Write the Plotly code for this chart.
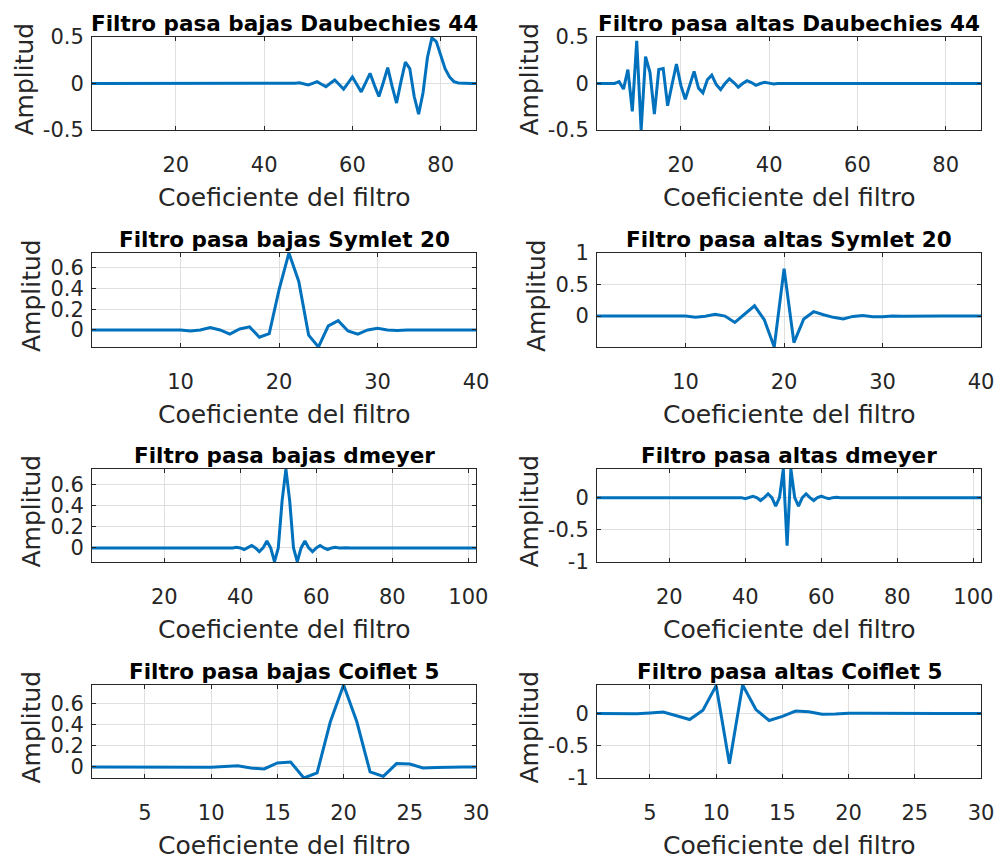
import plotly.graph_objects as go

W, H = 998, 860

# ---- filter coefficients (index 1..N) ----
db44_lo = [
    0, 0, 0, 0, 0, 0, 0, 0, 0, 0,
    0, 0, 0, 0, 0, 0, 0, 0, 0, 0,
    0, 0, 0, 0, 0, 0, 0, 0, 0, 0,
    0, 0, 0, 0, 0, 0, 0, 0, 0, 0,
    0.001, -0.001, 0.001, 0.002, 0.002, 0.004, 0.003, 0.008, -0.004, -0.016,
    0.002, 0.02, -0.008, -0.034, 0.002, 0.038, -0.01, -0.06, 0.004, 0.07,
    -0.01, -0.09, 0.01, 0.11, -0.02, -0.14, 0.01, 0.17, -0.03, -0.21,
    0.02, 0.23, 0.16, -0.14, -0.33, -0.1, 0.28, 0.49, 0.45, 0.31,
    0.16, 0.07, 0.02, 0.005, 0.001, 0, 0, 0,
]
db44_hi = [
    0, 0, 0, 0, 0.001, 0.02, -0.06, 0.15, -0.30, 0.46,
    -0.50, 0.29, 0.12, -0.33, 0.15, 0.16, -0.24, -0.01, 0.21, -0.02,
    -0.17, -0.02, 0.13, -0.05, -0.10, 0.04, 0.09, -0.01, -0.065, 0.0,
    0.05, 0.01, -0.04, 0.0, 0.03, 0.01, -0.02, 0.0, 0.012, 0.004,
    -0.006, 0.0, 0.003, 0.001, -0.001, 0.001, 0, 0, 0, 0,
    0, 0, 0, 0, 0, 0, 0, 0, 0, 0,
    0, 0, 0, 0, 0, 0, 0, 0, 0, 0,
    0, 0, 0, 0, 0, 0, 0, 0, 0, 0,
    0, 0, 0, 0, 0, 0, 0, 0,
]
sym20_lo = [
    0, 0, 0, 0, 0, 0, 0, 0.001, 0.003, 0.0,
    -0.01, 0.0, 0.023, 0.0, -0.04, 0.01, 0.03, -0.07, -0.035, 0.39,
    0.745, 0.47, -0.05, -0.165, 0.04, 0.09, -0.01, -0.04, 0.0, 0.016,
    0.0, -0.006, 0.0, 0.001, 0, 0, 0, 0, 0, 0,
]
sym20_hi = [
    0, 0, 0, 0, 0, 0, 0, 0, 0.006, 0.0,
    -0.02, -0.003, 0.027, 0.0, -0.1, 0.03, 0.163, -0.06, -0.49, 0.75,
    -0.42, -0.045, 0.07, 0.022, -0.02, -0.045, -0.005, 0.011, -0.01, -0.01,
    0.0, -0.003, 0.0, 0, 0, 0, 0, 0, 0, 0,
]
dmey_lo = [
    0, 0, 0, 0, 0, 0, 0, 0, 0, 0,
    0, 0, 0, 0, 0, 0, 0, 0, 0, 0,
    0, 0, 0, 0, 0, 0, 0, 0, 0, 0,
    0, 0, 0, 0, 0, 0.001, -0.003, 0.0, 0.006, 0.0,
    -0.015, 0.0, 0.022, 0.0, -0.035, 0.0, 0.065, 0.0, -0.13, 0.0,
    0.445, 0.745, 0.445, 0.0, -0.13, 0.0, 0.065, 0.0, -0.035, 0.0,
    0.022, 0.0, -0.015, 0.0, 0.006, 0.0, -0.003, 0.001, 0, 0,
    0, 0, 0, 0, 0, 0, 0, 0, 0, 0,
    0, 0, 0, 0, 0, 0, 0, 0, 0, 0,
    0, 0, 0, 0, 0, 0, 0, 0, 0, 0,
    0, 0,
]
dmey_hi = [
    0, 0, 0, 0, 0, 0, 0, 0, 0, 0,
    0, 0, 0, 0, 0, 0, 0, 0, 0, 0,
    0, 0, 0, 0, 0, 0, 0, 0, 0, 0,
    0, 0, 0, 0, -0.001, -0.003, 0.0, 0.006, 0.0, -0.015,
    0.0, 0.022, 0.0, -0.045, 0.0, 0.06, 0.0, -0.13, 0.0, 0.445,
    -0.745, 0.445, 0.0, -0.13, 0.0, 0.06, 0.0, -0.045, 0.0, 0.022,
    0.0, -0.015, 0.0, 0.006, 0.0, -0.003, -0.001, 0, 0, 0,
    0, 0, 0, 0, 0, 0, 0, 0, 0, 0,
    0, 0, 0, 0, 0, 0, 0, 0, 0, 0,
    0, 0, 0, 0, 0, 0, 0, 0, 0, 0,
    0, 0,
]
coif5_lo = [
    0.0, 0.0, 0.0, 0.0, 0.0, -0.001, 0.0, 0.001, -0.002, -0.003,
    0.005, 0.012, -0.01, -0.019, 0.038, 0.047, -0.105, -0.057, 0.43, 0.78,
    0.43, -0.047, -0.09, 0.032, 0.028, -0.01, -0.004, 0.001, 0.0, 0.0,
]
coif5_hi = [
    0.0, 0.0, -0.002, -0.004, 0.008, 0.022, -0.035, -0.095, 0.05, 0.43,
    -0.78, 0.44, 0.06, -0.11, -0.045, 0.037, 0.026, -0.014, -0.01, 0.004,
    0.002, 0, 0, 0, 0, 0, 0, 0, 0, 0,
]

titles = [
    "Filtro pasa bajas Daubechies 44", "Filtro pasa altas Daubechies 44",
    "Filtro pasa bajas Symlet 20", "Filtro pasa altas Symlet 20",
    "Filtro pasa bajas dmeyer", "Filtro pasa altas dmeyer",
    "Filtro pasa bajas Coiflet 5", "Filtro pasa altas Coiflet 5",
]
series = [db44_lo, db44_hi, sym20_lo, sym20_hi, dmey_lo, dmey_hi, coif5_lo, coif5_hi]

# x ticks per row
xticks_db44 = [20, 40, 60, 80]
xticks_sym20 = [10, 20, 30, 40]
xticks_dmey = [20, 40, 60, 80, 100]
xticks_coif5 = [5, 10, 15, 20, 25, 30]
xticks = [xticks_db44, xticks_db44, xticks_sym20, xticks_sym20,
          xticks_dmey, xticks_dmey, xticks_coif5, xticks_coif5]

# y ticks and labels per panel
yticks_sym = [-0.5, 0, 0.5]
ylabels_sym = ["-0.5", "0", "0.5"]
yticks_pos = [0, 0.2, 0.4, 0.6]
ylabels_pos = ["0", "0.2", "0.4", "0.6"]
yticks_up = [0, 0.5, 1]
ylabels_up = ["0", "0.5", "1"]
yticks_neg = [-1, -0.5, 0]
ylabels_neg = ["-1", "-0.5", "0"]
yticks = [yticks_sym, yticks_sym, yticks_pos, yticks_up,
          yticks_pos, yticks_neg, yticks_pos, yticks_neg]
ylabels = [ylabels_sym, ylabels_sym, ylabels_pos, ylabels_up,
           ylabels_pos, ylabels_neg, ylabels_pos, ylabels_neg]

yranges = [[-0.5, 0.5], [-0.5, 0.5], [-0.165, 0.745], [-0.49, 1.0],
           [-0.133, 0.745], [-1.0, 0.445], [-0.105, 0.78], [-1.0, 0.44]]

# axes boxes in pixels
col_px = [(92, 476), (597, 981)]
row_px = [(37, 130), (253, 347), (469, 562), (685, 778)]
# distance of the y title from the axis (wider tick labels push it further out)
ytitle_gap = [68, 68, 61, 61, 61, 68, 61, 68]

INK = "#262626"
FONT = "DejaVu Sans"

fig = go.Figure()
annotations = []
layout = dict(
    width=W, height=H, autosize=False,
    margin=dict(l=0, r=0, t=0, b=0, pad=0, autoexpand=False),
    paper_bgcolor="white", plot_bgcolor="white",
    showlegend=False,
    font=dict(family=FONT, color=INK, size=21),
)

for i, (vals, title) in enumerate(zip(series, titles)):
    r, c = divmod(i, 2)
    x0, x1 = col_px[c]
    y0, y1 = row_px[r]
    k = "" if i == 0 else str(i + 1)
    xs = list(range(1, len(vals) + 1))
    fig.add_trace(go.Scatter(
        x=xs, y=vals, mode="lines",
        line=dict(color="#0072BD", width=3),
        xaxis="x" + k, yaxis="y" + k, hoverinfo="skip",
    ))
    axis_common = dict(
        showline=True, linecolor=INK, linewidth=1, mirror="ticks",
        ticks="inside", ticklen=4, tickwidth=1, tickcolor=INK,
        showgrid=True, gridcolor="#dfdfdf", gridwidth=1,
        zeroline=False, automargin=False,
        tickfont=dict(family=FONT, size=21, color=INK),
    )
    layout["xaxis" + k] = dict(
        axis_common, domain=[x0 / W, x1 / W], anchor="y" + k,
        range=[1, len(vals)], tickvals=xticks[i],
        ticktext=[str(t) for t in xticks[i]], ticklabelstandoff=16,
    )
    layout["yaxis" + k] = dict(
        axis_common, domain=[1 - y1 / H, 1 - y0 / H], anchor="x" + k,
        range=yranges[i], tickvals=yticks[i], ticktext=ylabels[i],
        ticklabelstandoff=3,
    )
    cx = (x0 + x1) / 2
    annotations.append(dict(
        text="<b>" + title + "</b>", x=cx / W, y=1 - (y0 - 14) / H,
        xref="paper", yref="paper", xanchor="center", yanchor="middle",
        showarrow=False, font=dict(family=FONT, size=21.5, color="black"),
    ))
    annotations.append(dict(
        text="Coeficiente del filtro", x=cx / W, y=1 - (y1 + 67) / H,
        xref="paper", yref="paper", xanchor="center", yanchor="middle",
        showarrow=False, font=dict(family=FONT, size=25, color=INK),
    ))
    annotations.append(dict(
        text="Amplitud", x=(x0 - ytitle_gap[i]) / W,
        y=1 - ((y0 + y1) / 2 - 4) / H,
        xref="paper", yref="paper", xanchor="center", yanchor="middle",
        textangle=-90, showarrow=False,
        font=dict(family=FONT, size=25, color=INK),
    ))

layout["annotations"] = annotations
fig.update_layout(**layout)
fig.write_html("out.html")
